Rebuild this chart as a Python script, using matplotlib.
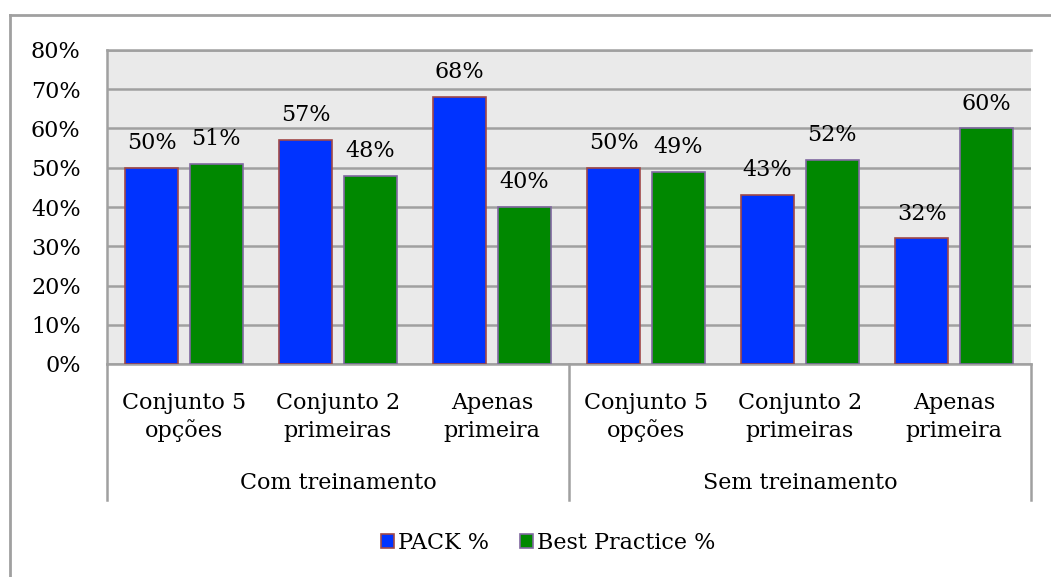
import matplotlib
matplotlib.use('Agg')
import matplotlib.pyplot as plt
import matplotlib.transforms as mtransforms
import numpy as np

# Data
groups = ['Com treinamento', 'Sem treinamento']
categories = ['Conjunto 5\nopções', 'Conjunto 2\nprimeiras', 'Apenas\nprimeira'] * 2
pack = [50, 57, 68, 50, 43, 32]
best = [51, 48, 40, 49, 52, 60]
series_names = ['PACK %', 'Best Practice %']
yticks = [0, 10, 20, 30, 40, 50, 60, 70, 80]

W, H = 1051, 577
FS = 16
plt.rcParams['font.family'] = ['DejaVu Serif']

fig = plt.figure(figsize=(W / 100, H / 100), dpi=100)
ax = fig.add_axes([107 / W, 1 - 364 / H, 924 / W, 314 / H])
ax.set_facecolor('#EAEAEA')

x = np.arange(len(categories))
bw = 0.34
off = 0.21
b1 = ax.bar(x - off, pack, bw, color='#0033FF', edgecolor='#A04848', linewidth=1.2, zorder=3)
b2 = ax.bar(x + off, best, bw, color='#008800', edgecolor='#8068A0', linewidth=1.2, zorder=3)

for rects, vals in ((b1, pack), (b2, best)):
    for r, v in zip(rects, vals):
        ax.annotate(f'{v}%', (r.get_x() + r.get_width() / 2, v), xytext=(0, 10),
                    textcoords='offset points', ha='center', va='bottom', fontsize=FS)

ax.set_xlim(-0.5, len(categories) - 0.5)
ax.set_ylim(0, 80)
ax.set_yticks(yticks)
ax.set_yticklabels([f'{t}%' for t in yticks], fontsize=FS)
ax.yaxis.grid(True, color='#A0A0A0', linewidth=1.8, zorder=0)
ax.set_axisbelow(True)
ax.tick_params(axis='y', length=0, pad=19)
ax.set_xticks([])
ax.spines['right'].set_visible(False)
for s in ['left', 'top', 'bottom']:
    ax.spines[s].set_color('#A0A0A0')
    ax.spines[s].set_linewidth(1.8)

# category and group labels below the plot
trans = mtransforms.blended_transform_factory(ax.transData, fig.transFigure)
for xi, lab in zip(x, categories):
    ax.text(xi, 1 - 417 / H, lab, transform=trans, ha='center', va='center',
            fontsize=FS, linespacing=1.3)
for gi, g in enumerate(groups):
    ax.text(gi * 3 + 1, 1 - 483 / H, g, transform=trans, ha='center', va='center', fontsize=FS)
for xs in [-0.5, 2.5, 5.5]:
    ax.plot([xs, xs], [1 - 364 / H, 1 - 500 / H], transform=trans, color='#A0A0A0',
            linewidth=1.8, clip_on=False)

# outer chart border (top and left only visible)
fig.add_artist(plt.Line2D([10 / W, 1], [1 - 15 / H, 1 - 15 / H], color='#A0A0A0', linewidth=2))
fig.add_artist(plt.Line2D([10 / W, 10 / W], [0, 1 - 15 / H], color='#A0A0A0', linewidth=2))

leg = fig.legend([b1, b2], series_names, loc='center', bbox_to_anchor=(548 / W, 1 - 543 / H),
                 ncol=2, frameon=False, fontsize=FS, handlelength=0.6, handleheight=0.6,
                 handletextpad=0.15, columnspacing=1.4)

fig.savefig('out.png', dpi=100)
